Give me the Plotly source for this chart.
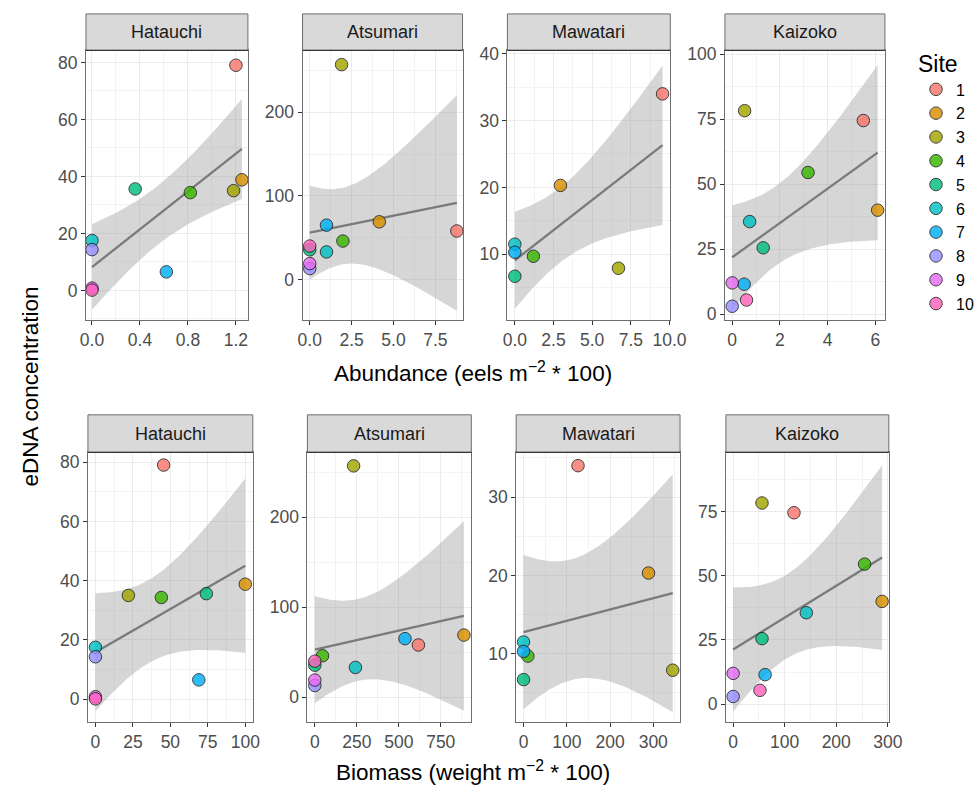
import numpy as np
import plotly.graph_objects as go

W, H = 979, 800

rivers = ["Hatauchi", "Atsumari", "Mawatari", "Kaizoko"]
sites = [str(i) for i in range(1, 11)]
site_colors = ["#F8766D", "#D89000", "#A3A500", "#39B600", "#00BF7D",
               "#00BFC4", "#00B0F6", "#9590FF", "#E76BF3", "#FF62BC"]

# eDNA concentration per site (None = no sample)
edna_hatauchi = [79.0, 38.8, 35.0, 34.3, 35.6, 17.5, 6.5, 14.3, 0.8, 0.1]
edna_atsumari = [58.0, 69.0, 257.0, 46.0, 35.5, 33.0, 65.0, 13.0, 19.0, 40.0]
edna_mawatari = [34.0, 20.3, 7.9, 9.7, 6.7, 11.5, 10.3, None, None, None]
edna_kaizoko = [74.5, 40.0, 78.3, 54.5, 25.5, 35.6, 11.5, 3.0, 12.0, 5.4]

# Abundance (eels m^-2 * 100)
abund_hatauchi = [1.20, 1.25, 1.18, 0.82, 0.36, 0.0, 0.62, 0.0, 0.0, 0.0]
abund_atsumari = [8.78, 4.15, 1.90, 1.98, 0.0, 1.0, 1.0, 0.0, 0.0, 0.0]
abund_mawatari = [9.55, 2.95, 6.70, 1.20, 0.0, 0.0, 0.0, None, None, None]
abund_kaizoko = [5.50, 6.10, 0.52, 3.18, 1.30, 0.73, 0.50, 0.0, 0.0, 0.60]

# Biomass (weight m^-2 * 100)
bio_hatauchi = [45.5, 100.0, 22.0, 44.0, 74.0, 0.0, 69.0, 0.0, 0.0, 0.0]
bio_atsumari = [617.0, 888.0, 231.0, 46.0, 0.0, 242.0, 537.0, 0.0, 0.0, 0.0]
bio_mawatari = [126.0, 289.0, 345.0, 10.0, 0.0, 0.0, 0.0, None, None, None]
bio_kaizoko = [118.0, 289.0, 56.0, 255.0, 56.0, 142.0, 62.0, 0.0, 0.0, 52.0]

edna = [edna_hatauchi, edna_atsumari, edna_mawatari, edna_kaizoko]
abund = [abund_hatauchi, abund_atsumari, abund_mawatari, abund_kaizoko]
bio = [bio_hatauchi, bio_atsumari, bio_mawatari, bio_kaizoko]

# axis settings
abund_xrange = [[-0.05, 1.30], [-0.43, 9.12], [-0.48, 10.05], [-0.305, 6.405]]
abund_yrange = [[-10.4, 84.2], [-48.5, 274], [0.15, 40.5], [-2.3, 101.5]]
abund_xdtick = [0.4, 2.5, 2.5, 2]
abund_xfmt = [".1f", ".1f", ".1f", "d"]
bio_xrange = [[-5, 105], [-44, 932], [-17, 362], [-14, 302]]
bio_yrange = [[-7.7, 83.3], [-27.5, 272], [1.3, 35.7], [-6.9, 98]]
bio_xdtick = [25, 250, 100, 100]
ydtick = [20, 100, 10, 25]

# panel pixel boxes (left, right)
top_x = [(82, 248), (304, 468), (514, 681), (737, 901)]
bot_x = [(84, 253), (309, 477), (523, 691), (738, 905)]
top_y = (45, 318)
bot_y = (452, 725)
top_strip = (8, 45)
bot_strip = (414, 452)

Z95 = 1.959964  # normal quantile for the 95 % band

fig = go.Figure()
annotations = []
shapes = []
layout = {}

def px_x(p):
    return p / W

def px_y(p):
    return 1 - p / H

FONT = "Liberation Sans, Arial, sans-serif"
tick_font = dict(family=FONT, size=17.5, color="#4D4D4D")

panel_idx = 0
for row, (xs_all, xranges, yranges, xdticks, xb, yb, sb) in enumerate([
        (abund, abund_xrange, abund_yrange, abund_xdtick, top_x, top_y, top_strip),
        (bio, bio_xrange, bio_yrange, bio_xdtick, bot_x, bot_y, bot_strip)]):
    for c in range(4):
        panel_idx += 1
        xa = "x" if panel_idx == 1 else f"x{panel_idx}"
        ya = "y" if panel_idx == 1 else f"y{panel_idx}"
        xv = xs_all[c]
        yv = edna[c]
        pairs = [(a, b) for a, b in zip(xv, yv) if a is not None and b is not None]
        px_ = np.array([p[0] for p in pairs])
        py_ = np.array([p[1] for p in pairs])
        n = len(px_)
        slope, inter = np.polyfit(px_, py_, 1)
        resid = py_ - (inter + slope * px_)
        s = np.sqrt(np.sum(resid ** 2) / (n - 2))
        mx = px_.mean()
        sxx = np.sum((px_ - mx) ** 2)
        grid = np.linspace(px_.min(), px_.max(), 80)
        fit = inter + slope * grid
        se = s * np.sqrt(1 / n + (grid - mx) ** 2 / sxx)
        up = fit + Z95 * se
        lo = fit - Z95 * se
        fig.add_trace(go.Scatter(
            x=np.concatenate([grid, grid[::-1]]),
            y=np.concatenate([up, lo[::-1]]),
            fill="toself", fillcolor="rgba(153,153,153,0.4)",
            line=dict(width=0), mode="lines", hoverinfo="skip",
            showlegend=False, xaxis=xa, yaxis=ya))
        fig.add_trace(go.Scatter(
            x=grid, y=fit, mode="lines", line=dict(color="#7A7A7A", width=2.3),
            hoverinfo="skip", showlegend=False, xaxis=xa, yaxis=ya))
        for si in range(10):
            if xv[si] is None or yv[si] is None:
                continue
            fig.add_trace(go.Scatter(
                x=[xv[si]], y=[yv[si]], mode="markers",
                marker=dict(size=12.5, color=site_colors[si], opacity=0.82,
                            line=dict(color="#1A1A1A", width=1)),
                name=sites[si], legendgroup=sites[si],
                showlegend=(panel_idx == 1), cliponaxis=False,
                xaxis=xa, yaxis=ya))
        x0, x1 = xb[c]
        common = dict(showgrid=True, gridcolor="#EBEBEB", gridwidth=1.1,
                      zeroline=False, showline=True, linecolor="#6E6E6E",
                      linewidth=1, mirror=True, ticks="outside", ticklen=4,
                      tickcolor="#333333", tickwidth=1, tickfont=tick_font)
        layout["xaxis" if panel_idx == 1 else f"xaxis{panel_idx}"] = dict(
            common, domain=[px_x(x0), px_x(x1)], range=xranges[c],
            anchor=ya, dtick=xdticks[c], tick0=0,
            tickformat=(abund_xfmt[c] if row == 0 else "d"),
            minor=dict(showgrid=True, gridcolor="#F3F3F3", gridwidth=0.6,
                       dtick=xdticks[c] / 2, tick0=0))
        layout["yaxis" if panel_idx == 1 else f"yaxis{panel_idx}"] = dict(
            common, domain=[px_y(yb[1]), px_y(yb[0])], range=yranges[c],
            anchor=xa, dtick=ydtick[c], tick0=0,
            minor=dict(showgrid=True, gridcolor="#F3F3F3", gridwidth=0.6,
                       dtick=ydtick[c] / 2, tick0=0))
        shapes.append(dict(type="rect", xref="paper", yref="paper",
                           x0=px_x(x0), x1=px_x(x1), y0=px_y(sb[1]), y1=px_y(sb[0]),
                           fillcolor="#D9D9D9", line=dict(color="#6E6E6E", width=1),
                           layer="above"))
        shapes.append(dict(type="line", xref="paper", yref="paper",
                           x0=px_x(x0), x1=px_x(x1), y0=px_y(sb[1]), y1=px_y(sb[1]),
                           line=dict(color="#333333", width=1.3), layer="above"))
        annotations.append(dict(text=rivers[c], xref="paper", yref="paper",
                                x=px_x((x0 + x1) / 2), y=px_y((sb[0] + sb[1]) / 2),
                                showarrow=False, xanchor="center", yanchor="middle",
                                font=dict(family=FONT, size=18, color="#1A1A1A")))

title_font = dict(family=FONT, size=22.5, color="#000000")
annotations.append(dict(text="Abundance (eels m<sup>\u22122</sup> * 100)", xref="paper", yref="paper",
                        x=px_x(479), y=px_y(371), showarrow=False,
                        xanchor="center", yanchor="middle", font=title_font))
annotations.append(dict(text="Biomass (weight m<sup>\u22122</sup> * 100)", xref="paper", yref="paper",
                        x=px_x(479), y=px_y(775), showarrow=False,
                        xanchor="center", yanchor="middle", font=title_font))
annotations.append(dict(text="eDNA concentration", xref="paper", yref="paper",
                        x=px_x(25), y=px_y(385), showarrow=False, textangle=-90,
                        xanchor="center", yanchor="middle", font=title_font))

fig.update_layout(
    width=W, height=H, margin=dict(l=0, r=0, t=0, b=0),
    paper_bgcolor="white", plot_bgcolor="white",
    annotations=annotations, shapes=shapes,
    legend=dict(x=px_x(933), y=px_y(37), xanchor="left", yanchor="top",
                title=dict(text="Site", font=dict(family=FONT, size=23, color="#000000")),
                font=dict(family=FONT, size=16, color="#000000"),
                bgcolor="rgba(0,0,0,0)", tracegroupgap=0, itemsizing="trace"),
    **layout)

fig.write_html("out.html")
